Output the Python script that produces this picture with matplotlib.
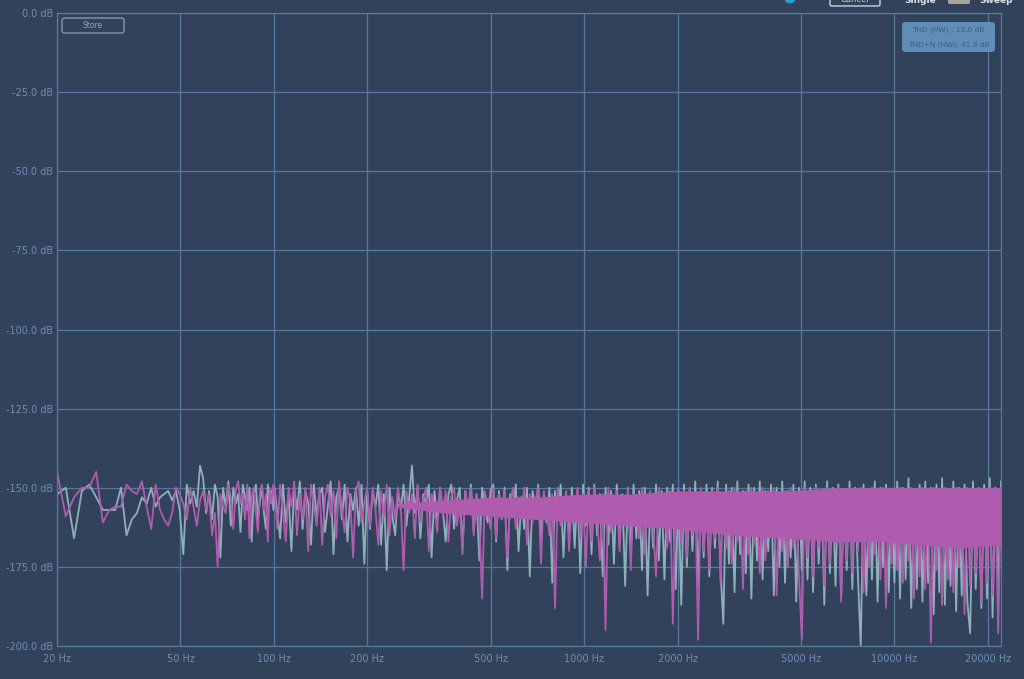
import numpy as np
import matplotlib
matplotlib.use("Agg")
import matplotlib.pyplot as plt
from matplotlib.patches import FancyBboxPatch, Circle

# ---------------- data ----------------
# frequency grid (Hz): fine linear bins at the low end, log-spaced above 100 Hz
FREQ_LOW_START, FREQ_LOW_STEP, FREQ_LOW_STOP = 20.0, 1.35, 100.0
FREQ_HIGH_START, FREQ_HIGH_STOP, FREQ_HIGH_N = 100.5, 22050.0, 260

# magenta trace (dB)
mag_low = [-145, -159, -153, -150, -150, -145, -161, -157, -156, -156, -149, -151, -152, -148, -156, -163,
           -149, -157, -160, -162, -158, -150, -152,
           -155, -160, -150, -156, -162, -154, -151, -157, -152, -165, -158, -175, -152, -156, -158, -149,
           -153, -163, -151, -148, -155, -152, -160, -149, -166, -153, -150, -158, -164, -151, -149, -157,
           -152, -167, -150, -155, -149]
mag_high = [-151, -163, -149, -158, -167, -150, -156, -148, -165, -152, -160, -150, -170, -149, -155, -162,
            -150, -168, -153, -149, -159, -151, -166, -148, -157, -164, -150, -154, -172, -151, -148, -161,
            -155, -150,
            -162, -150, -157, -168, -151, -159, -149, -165, -153, -160, -150, -156, -176, -151, -158, -152,
            -166, -149, -161, -154, -150, -170, -152, -157, -164, -150, -159, -151, -167, -153, -150, -162,
            -155, -171, -151, -158, -150, -165, -152, -160, -185, -151, -156, -163,
            -150, -166, -152, -160, -151, -172, -155, -150, -163, -153, -158, -150, -168, -152, -161, -154,
            -150, -174, -151, -157, -165, -152, -188, -150, -162, -156, -151, -170, -153, -159, -150, -166,
            -152, -175,
            -151, -167, -150, -160, -173, -152, -195, -150, -164, -155, -151, -170, -153, -162, -150, -176,
            -152, -158, -166, -150, -171, -154, -151, -163, -178, -150, -160, -152, -169, -151, -193, -155,
            -150,
            -168, -151, -172, -150, -165, -152, -198, -150, -170, -153, -176, -151, -166, -150, -180, -152,
            -169, -151, -174, -150, -167, -153, -182, -151, -171, -150, -168, -152, -177, -150, -173, -151,
            -165, -150, -184, -152, -170, -151, -175, -150, -169, -153, -179, -198,
            -150, -172, -151, -178, -150, -169, -152, -181, -150, -174, -151, -168, -150, -186, -152, -173,
            -150, -177, -151, -170, -150, -183, -152, -175, -150, -171, -151, -179, -150, -188, -152, -174,
            -150,
            -176, -150, -180, -151, -173, -150, -185, -152, -178, -150, -182, -151, -199, -150, -176, -152,
            -187, -150, -179, -151, -183, -150, -175, -152, -190, -150, -181, -151, -177, -150, -186, -152,
            -180, -150, -184, -151, -196, -150]

# grey-teal trace (dB)
grey_low = [-152, -150, -166, -151, -149, -153, -157, -157, -157, -150, -165, -160, -158, -153, -155, -150,
            -156, -153, -152, -151, -154, -151, -157,
            -171, -149, -155, -151, -156, -143, -147, -158, -151, -160, -149, -153, -172, -150, -156, -148,
            -162, -150, -155, -152, -164, -149, -153, -157, -150, -167, -152, -149, -160, -154, -150, -158,
            -163, -149, -155, -151, -157]
grey_high = [-150, -158, -166, -149, -161, -152, -170, -150, -157, -148, -163, -151, -155, -168, -149, -159,
             -152, -150, -164, -156, -148, -171, -153, -150, -160, -149, -167, -152, -157, -150, -162, -149,
             -174, -151,
             -163, -151, -156, -149, -168, -152, -176, -150, -159, -165, -151, -157, -149, -162, -153, -143,
             -158, -150, -166, -152, -155, -149, -172, -151, -160, -150, -157, -167, -152, -149, -163, -154,
             -150, -169, -151, -158, -149, -164, -152, -173, -150, -156, -161, -151,
             -149, -167, -151, -160, -150, -176, -152, -158, -149, -170, -153, -163, -150, -178, -151, -157,
             -149, -166, -152, -161, -150, -180, -151, -159, -149, -172, -153, -164, -150, -169, -151, -177,
             -149, -162,
             -150, -171, -149, -165, -152, -178, -150, -168, -151, -174, -149, -163, -152, -181, -150, -170,
             -149, -166, -151, -176, -150, -184, -152, -169, -149, -173, -151, -179, -150, -167, -149, -182,
             -151,
             -187, -149, -175, -150, -170, -148, -181, -151, -172, -149, -178, -150, -169, -148, -176, -193,
             -149, -174, -150, -183, -148, -171, -151, -177, -149, -185, -150, -173, -148, -179, -151, -170,
             -149, -184, -150, -175, -148, -180, -151, -172, -149, -186, -150, -176,
             -148, -179, -150, -183, -149, -174, -151, -187, -148, -177, -150, -181, -149, -185, -151, -176,
             -148, -182, -150, -178, -200, -149, -184, -151, -179, -148, -186, -150, -175, -149, -183, -151,
             -180,
             -148, -185, -150, -179, -147, -188, -151, -182, -149, -186, -148, -180, -150, -190, -149, -183,
             -147, -187, -151, -181, -148, -189, -150, -184, -149, -186, -196, -148, -182, -150, -188, -149,
             -185, -147, -191, -150, -183, -148]

# solid core of the magenta noise band (envelope, dB)
band_freq = [250, 350, 500, 700, 1000, 1400, 2000, 3000, 4500, 6500, 9000, 12000, 16000, 22050]
band_hi = [-155, -154, -153, -153, -152, -152, -151, -151, -151, -150, -150, -150, -150, -150]
band_lo = [-156, -158, -159, -160, -161, -162, -163, -165, -166, -167, -167, -168, -169, -168]

x_ticks = [20, 50, 100, 200, 500, 1000, 2000, 5000, 10000, 20000]
x_labels = ["20 Hz", "50 Hz", "100 Hz", "200 Hz", "500 Hz", "1000 Hz", "2000 Hz", "5000 Hz", "10000 Hz", "20000 Hz"]
y_ticks = [0, -25, -50, -75, -100, -125, -150, -175, -200]
y_labels = ["0.0 dB", "-25.0 dB", "-50.0 dB", "-75.0 dB", "-100.0 dB", "-125.0 dB", "-150.0 dB", "-175.0 dB", "-200.0 dB"]

legend_lines = ["THD (HW) : 13.0 dB", "THD+N (HW): 41.9 dB"]

# ---------------- drawing ----------------
freq = np.concatenate([np.arange(FREQ_LOW_START, FREQ_LOW_STOP, FREQ_LOW_STEP),
                       np.geomspace(FREQ_HIGH_START, FREQ_HIGH_STOP, FREQ_HIGH_N)])
mag = np.array(mag_low + mag_high, dtype=float)
grey = np.array(grey_low + grey_high, dtype=float)

BG = "#33425b"
GRID = "#56789a"
TICK = "#6e8fb0"
MAGENTA = "#b05cae"
GREYC = "#8fb0ba"

W, H = 1024, 679
fig = plt.figure(figsize=(W / 100, H / 100), dpi=100, facecolor=BG)
ax = fig.add_axes([57 / W, 1 - 646 / H, (1001 - 57) / W, (646 - 13) / H])
ax.set_facecolor(BG)
ax.set_xscale("log")
ax.set_xlim(20, 22050)
ax.set_ylim(-200, 0)

ax.set_xticks(x_ticks)
ax.set_xticklabels(x_labels)
ax.xaxis.set_minor_locator(matplotlib.ticker.NullLocator())
ax.set_yticks(y_ticks)
ax.set_yticklabels(y_labels)
ax.tick_params(axis="both", length=0, colors=TICK, labelsize=7)
ax.tick_params(axis="x", pad=6)
ax.tick_params(axis="y", pad=3)
ax.grid(True, color=GRID, lw=0.9)
ax.set_axisbelow(True)
for s in ax.spines.values():
    s.set_color(GRID)
    s.set_linewidth(0.9)

ax.plot(freq, grey, color=GREYC, lw=1.3, zorder=2)
ax.fill_between(band_freq, band_lo, band_hi, color=MAGENTA, lw=0, zorder=3)
ax.plot(freq, mag, color=MAGENTA, lw=1.3, zorder=4)

# Store button
fig.patches.append(FancyBboxPatch((62 / W, 1 - 33 / H), 62 / W, 15 / H,
                                  boxstyle="round,pad=0,rounding_size=0.003",
                                  transform=fig.transFigure, fc="none", ec="#8497ad", lw=1.0))
fig.text(93 / W, 1 - 25.5 / H, "Store", color="#8ba3bf", fontsize=5.5, ha="center", va="center")

# THD legend box
fig.patches.append(FancyBboxPatch((902 / W, 1 - 52 / H), 93 / W, 30 / H,
                                  boxstyle="round,pad=0,rounding_size=0.004",
                                  transform=fig.transFigure, fc="#5f8db5", ec="none"))
fig.text(948.5 / W, 1 - 29.5 / H, legend_lines[0], color="#3e5d7e", fontsize=5.3, ha="center", va="center")
fig.text(948.5 / W, 1 - 44.5 / H, legend_lines[1], color="#3e5d7e", fontsize=5.3, ha="center", va="center")

# cut-off toolbar at the very top
fig.patches.append(Circle((790 / W, 1 + 0 / H), 5 / W, transform=fig.transFigure,
                          fc="#2a9fd6", ec="none"))
fig.patches.append(FancyBboxPatch((830 / W, 1 - 6 / H), 50 / W, 14 / H,
                                  boxstyle="round,pad=0,rounding_size=0.002",
                                  transform=fig.transFigure, fc="none", ec="#c9d2dc", lw=1.0))
fig.text(855 / W, 1 + 1 / H, "Cancel", color="#c9d2dc", fontsize=6, ha="center", va="center")
fig.text(920 / W, 1 - 0.5 / H, "Single", color="#dde3ea", fontsize=6.5, fontweight="bold", ha="center", va="center")
fig.patches.append(FancyBboxPatch((948 / W, 1 - 4 / H), 22 / W, 12 / H,
                                  boxstyle="round,pad=0,rounding_size=0.002",
                                  transform=fig.transFigure, fc="#a9a49c", ec="none"))
fig.text(996 / W, 1 - 0.5 / H, "Sweep", color="#dde3ea", fontsize=6.5, fontweight="bold", ha="center", va="center")

fig.savefig("out.png", dpi=100, facecolor=BG)
